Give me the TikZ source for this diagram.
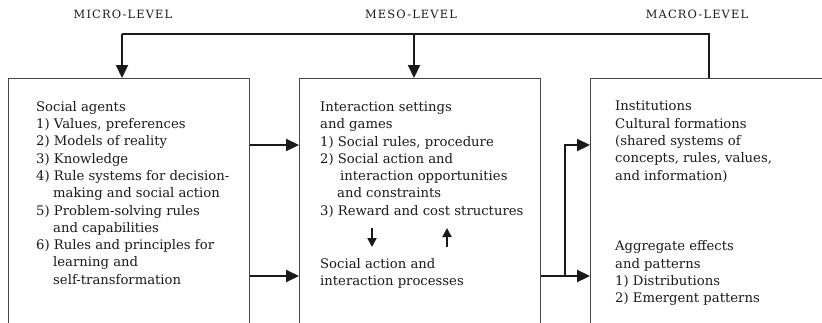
\documentclass[tikz,border=0pt]{standalone}
\usepackage{fontspec}
\setmainfont{DejaVu Serif}
\newfontfamily\levelfont[LetterSpace=10]{DejaVu Serif}
\usetikzlibrary{arrows.meta}
\definecolor{frame}{HTML}{4A4646}
\definecolor{ink}{HTML}{1C1919}
\tikzset{
  panel/.style={draw=frame, line width=1.3pt, rectangle, anchor=north west, minimum height=300pt},
  body/.style={text=ink, inner sep=0pt, anchor=north west, align=left, font=\fontsize{13.2}{17.3}\selectfont},
  level/.style={text=ink, inner sep=0pt, font=\levelfont\fontsize{11.4}{13}\selectfont},
  link/.style={draw=ink, line width=2.2pt, line join=miter},
  arr/.style={link, -{Triangle[length=13pt,width=12pt]}},
  tick/.style={draw=ink, line width=1.9pt, -{Triangle[length=9pt,width=9pt]}},
}
\newcommand{\ind}{\hspace*{17pt}}

\begin{document}
\begin{tikzpicture}[x=1pt,y=-1pt]
  \useasboundingbox (0,0) rectangle (822,322);
  \clip (0,0) rectangle (822,322);
  \fill[white] (0,0) rectangle (822,322);

  % level headings
  \node[level] (hmicro) at (123,14) {MICRO-LEVEL};
  \node[level] (hmeso)  at (411,14) {MESO-LEVEL};
  \node[level] (hmacro) at (697,14) {MACRO-LEVEL};

  % the three panels run off the bottom edge
  \node[panel, minimum width=241pt] (micro) at (8,78) {};
  \node[panel, minimum width=241pt] (meso) at (299,78) {};
  \node[panel, minimum width=300pt] (macro) at (590,78) {};

  \node[body] (agents) at (36,101) {Social agents\\
    1) Values, preferences\\
    2) Models of reality\\
    3) Knowledge\\
    4) Rule systems for decision-\\
    \ind making and social action\\
    5) Problem-solving rules\\
    \ind and capabilities\\
    6) Rules and principles for\\
    \ind learning and\\
    \ind self-transformation};

  \node[body] (settings) at (320,101.5) {Interaction settings\\
    and games\\
    1) Social rules, procedure\\
    2) Social action and\\
    \hspace*{20pt}interaction opportunities\\
    \ind and constraints\\
    3) Reward and cost structures};

  \node[body] (processes) at (320,258) {Social action and\\
    interaction processes};

  \node[body] (institutions) at (615,101) {Institutions\\
    Cultural formations\\
    (shared systems of\\
    concepts, rules, values,\\
    and information)};

  \node[body] (aggregate) at (615,240.5) {Aggregate effects\\
    and patterns\\
    1) Distributions\\
    2) Emergent patterns};

  % rows and corners of the connectors
  \coordinate (rowA) at (0,145);
  \coordinate (rowB) at (0,276);
  \coordinate (split) at (565,276);
  \coordinate (back) at (709,34);
  \coordinate (dropA) at (122,34);
  \coordinate (dropB) at (414,34);
  \coordinate (down) at (372,228);
  \coordinate (up) at (447,247);

  \draw[arr] (micro.east |- rowA) -- (meso.west |- rowA);
  \draw[arr] (micro.east |- rowB) -- (meso.west |- rowB);
  \draw[arr] (meso.east |- rowB) -- (macro.west |- rowB);
  \draw[arr] (split) |- (macro.west |- rowA);

  \draw[link] (macro.north -| back) -- (back) -- (dropA);
  \draw[arr] (dropA) -- (micro.north -| dropA);
  \draw[arr] (dropB) -- (meso.north -| dropB);

  \draw[tick] (down) -- ++(0,19);
  \draw[tick] (up) -- ++(0,-19);
\end{tikzpicture}
\end{document}
